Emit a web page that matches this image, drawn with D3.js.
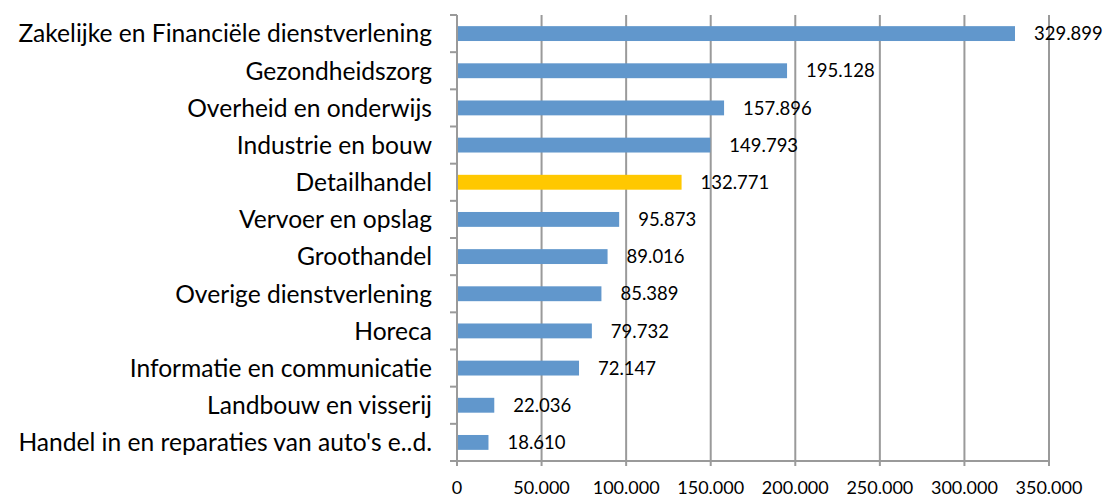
<!DOCTYPE html>
<html><head><meta charset="utf-8">
<script src="https://cdn.jsdelivr.net/npm/d3@7"></script>
<style>body{margin:0;background:#fff;} text{font-family:Lato,"Open Sans",sans-serif;}</style>
</head><body><svg id="c" width="1106" height="498"></svg>
<script>
const categories = ["Zakelijke en Financiële dienstverlening","Gezondheidszorg","Overheid en onderwijs","Industrie en bouw","Detailhandel","Vervoer en opslag","Groothandel","Overige dienstverlening","Horeca","Informatie en communicatie","Landbouw en visserij","Handel in en reparaties van auto's e..d."];
const values = [329899,195128,157896,149793,132771,95873,89016,85389,79732,72147,22036,18610];
const highlight = "Detailhandel";
const xTicks = [0,50000,100000,150000,200000,250000,300000,350000];

const svg = d3.select("#c");
const m = {l:457, r:1049, t:15, b:461};
const x = d3.scaleLinear().domain([0,350000]).range([m.l,m.r]);
const y = d3.scaleBand().domain(categories).range([m.t,m.b]).paddingInner(0.6).paddingOuter(0.3);
const fmt = v => d3.format(",.0f")(v).replace(/,/g,".");
const fmt3 = v => d3.format(",.3f")(v/1000).replace(/,/g,"");
const grey = "#9a9a9a";

// gridlines
svg.append("g").selectAll("line").data(xTicks.slice(1)).join("line")
  .attr("x1",d=>x(d)).attr("x2",d=>x(d)).attr("y1",m.t).attr("y2",m.b+5)
  .attr("stroke",grey).attr("stroke-width",2);

// bars
svg.append("g").selectAll("rect").data(categories).join("rect")
  .attr("x",x(0)).attr("y",d=>y(d)).attr("height",y.bandwidth())
  .attr("width",(d,i)=>x(values[i])-x(0))
  .attr("fill",d=>d===highlight?"#ffc800":"#6197cc");

// y axis
const yAxisG = svg.append("g");
yAxisG.append("line").attr("x1",m.l).attr("x2",m.l).attr("y1",m.t).attr("y2",m.b).attr("stroke",grey).attr("stroke-width",2);
const step = (m.b-m.t)/categories.length;
yAxisG.selectAll("line.t").data(d3.range(categories.length+1)).join("line").attr("class","t")
  .attr("x1",m.l-7).attr("x2",m.l).attr("y1",i=>m.t+i*step).attr("y2",i=>m.t+i*step)
  .attr("stroke",grey).attr("stroke-width",2);

// x axis
svg.append("line").attr("x1",m.l).attr("x2",m.r).attr("y1",m.b).attr("y2",m.b).attr("stroke",grey).attr("stroke-width",2);
svg.append("line").attr("x1",m.l).attr("x2",m.l).attr("y1",m.b).attr("y2",m.b+5).attr("stroke",grey).attr("stroke-width",2);

svg.append("g").selectAll("text").data(xTicks).join("text")
  .attr("x",d=>x(d)).attr("y",494).attr("text-anchor","middle")
  .attr("font-size",18).attr("fill","#000").text(fmt);

// category labels
svg.append("g").selectAll("text").data(categories).join("text")
  .attr("x",432).attr("y",d=>y(d)+y.bandwidth()/2).attr("dy","0.36em")
  .attr("text-anchor","end").attr("font-size",24.6).attr("fill","#000").text(d=>d);

// value labels
svg.append("g").selectAll("text").data(categories).join("text")
  .attr("x",(d,i)=>x(values[i])+19).attr("y",d=>y(d)+y.bandwidth()/2).attr("dy","0.36em")
  .attr("font-size",18.5).attr("fill","#000").text((d,i)=>fmt3(values[i]));
</script></body></html>
